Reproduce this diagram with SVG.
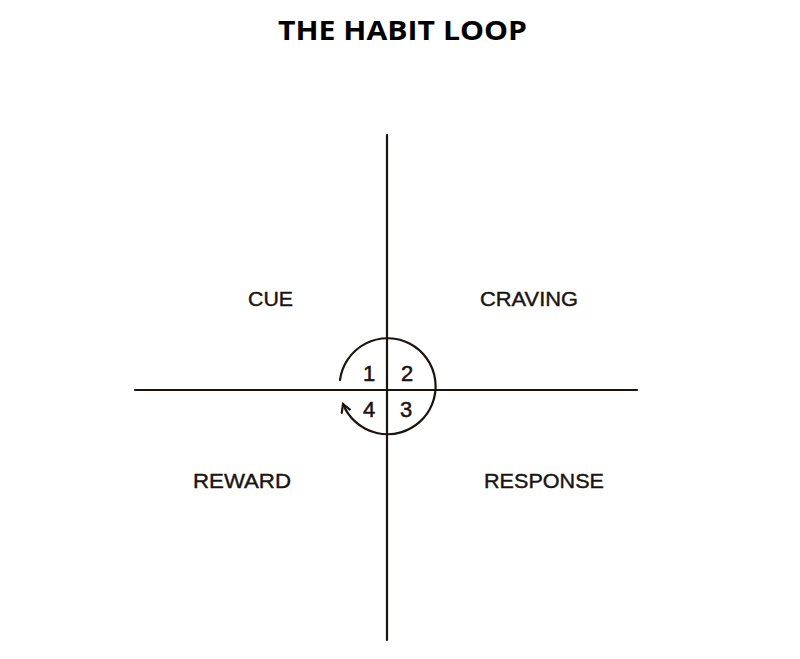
<svg xmlns="http://www.w3.org/2000/svg" width="800" height="659" viewBox="0 0 800 659">
<style>
.title{font-family:"Open Sans","Liberation Sans",sans-serif;font-weight:bold;font-size:27px;fill:#000}
.lbl{font-family:"Liberation Sans","DejaVu Sans",sans-serif;font-size:20px;fill:#1a1410;stroke:#1a1410;stroke-width:0.4}
.num{font-family:"Liberation Sans","DejaVu Sans",sans-serif;font-size:22px;fill:#1a1410;stroke:#1a1410;stroke-width:0.5;text-anchor:middle}
.ln{stroke:#1a1410;stroke-width:2.2;fill:none;stroke-linecap:round}
</style>
<defs>
<marker id="ah" viewBox="0 0 10 10" refX="8" refY="5" markerWidth="11" markerHeight="11" orient="auto" markerUnits="userSpaceOnUse">
<path d="M1 1 L8 5 L1 9" fill="none" stroke="#1a1410" stroke-width="2" stroke-linecap="round"/>
</marker>
</defs>
<rect width="800" height="659" fill="#fff"/>
<text class="title" x="278" y="40" textLength="249" lengthAdjust="spacingAndGlyphs">THE HABIT LOOP</text>
<g id="connectors">
<line class="ln" x1="135" y1="390" x2="637" y2="390"/>
<line class="ln" x1="387" y1="135" x2="387" y2="640"/>
<path class="ln" d="M340 380 A48 48 0 1 1 343 404" marker-end="url(#ah)"/>
</g>
<g id="cue"><text class="lbl" x="248" y="306" textLength="45" lengthAdjust="spacingAndGlyphs">CUE</text></g>
<g id="craving"><text class="lbl" x="480" y="306" textLength="98" lengthAdjust="spacingAndGlyphs">CRAVING</text></g>
<g id="reward"><text class="lbl" x="193" y="488" textLength="98" lengthAdjust="spacingAndGlyphs">REWARD</text></g>
<g id="response"><text class="lbl" x="484" y="488" textLength="120" lengthAdjust="spacingAndGlyphs">RESPONSE</text></g>
<g id="n1"><text class="num" x="369" y="381">1</text></g>
<g id="n2"><text class="num" x="407" y="381">2</text></g>
<g id="n4"><text class="num" x="369" y="417">4</text></g>
<g id="n3"><text class="num" x="406" y="417">3</text></g>
</svg>
